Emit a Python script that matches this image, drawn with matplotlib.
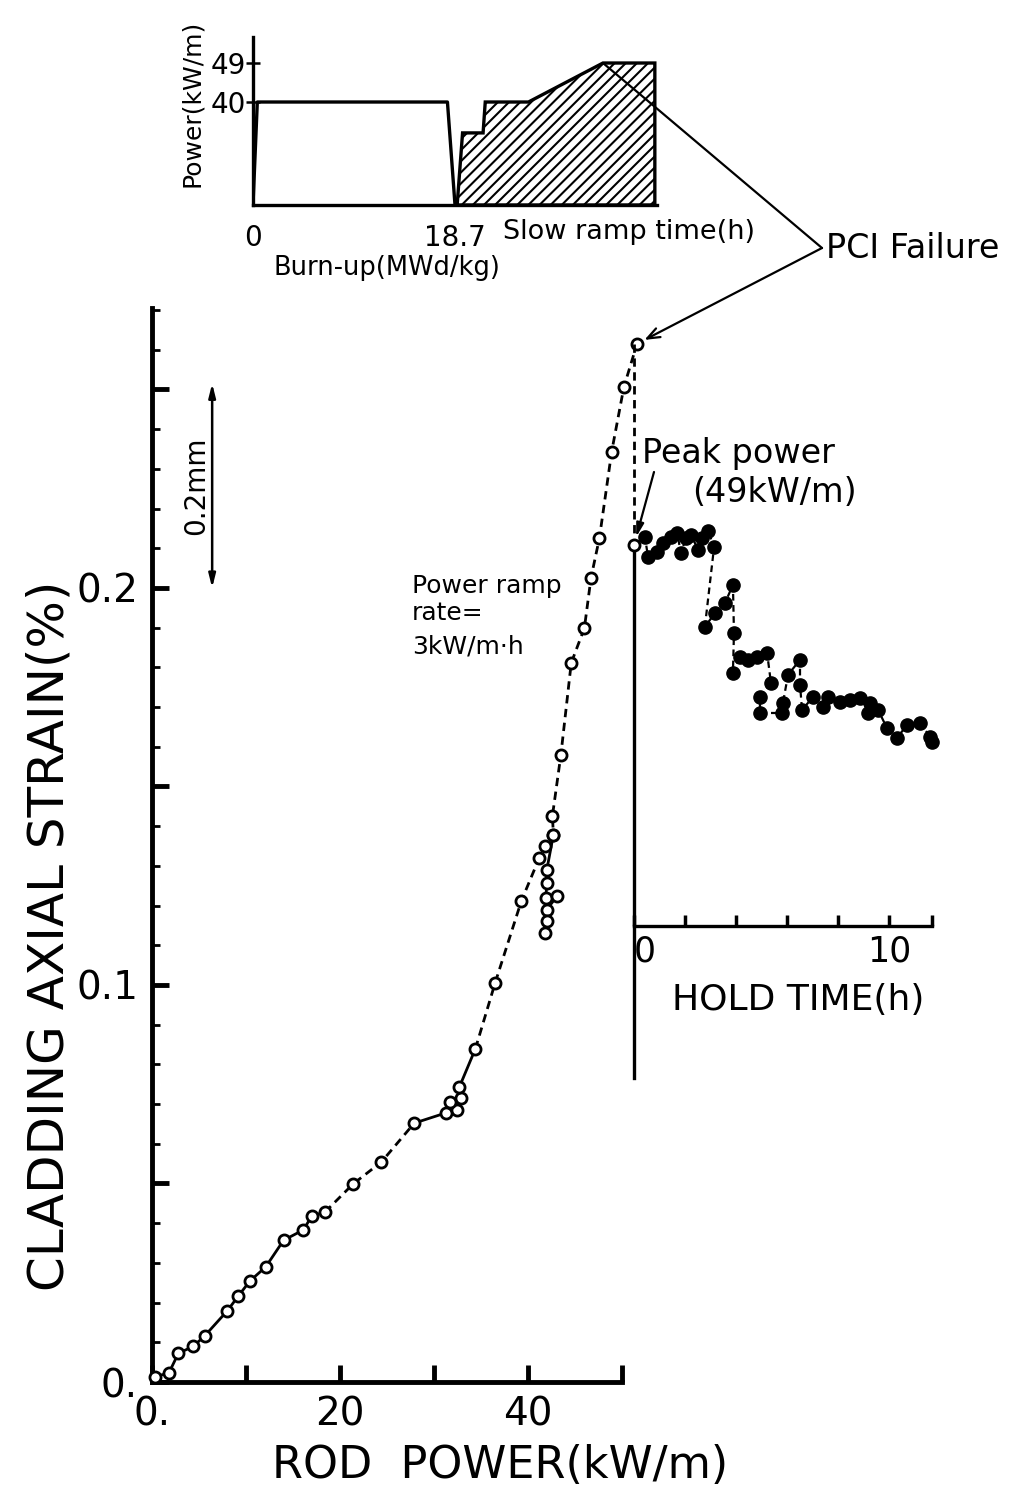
import numpy as np
import matplotlib
matplotlib.use("Agg")
import matplotlib.pyplot as plt
from matplotlib.ticker import FixedLocator, MultipleLocator

# ---------------- data ----------------
# power ramp: rod power (kW/m) vs cladding axial strain (%)
ramp_power = [0.3, 1.8, 2.8, 4.4, 5.6, 8.0, 9.2, 10.4, 12.1, 14.0, 16.1, 17.0, 18.4,
              21.4, 24.4, 27.9, 31.3, 32.4, 31.7, 32.9, 32.7, 34.4, 36.5, 39.3,
              41.2, 41.8, 42.7, 42.6, 43.5, 44.6, 46.0, 46.7, 47.6, 48.9, 50.2, 51.6]
ramp_strain = [0.0013, 0.0023, 0.0072, 0.0090, 0.0116, 0.0179, 0.0217, 0.0254, 0.0290,
               0.0357, 0.0383, 0.0418, 0.0428, 0.0499, 0.0554, 0.0652, 0.0678, 0.0685,
               0.0705, 0.0715, 0.0743, 0.0839, 0.1005, 0.1212, 0.1320, 0.1350, 0.1378,
               0.1426, 0.1580, 0.1811, 0.1899, 0.2025, 0.2126, 0.2343, 0.2506, 0.2615]
# relaxation points near 42 kW/m
relax_power = [42.7, 42.0, 42.0, 41.9, 43.1, 42.0, 42.0, 41.8]
relax_strain = [0.1378, 0.1290, 0.1257, 0.1220, 0.1224, 0.1190, 0.1160, 0.1130]

# hold at peak power: hold time (h) vs strain (%)
hold_start_strain = 0.2108
hold_time = [0.43, 0.55, 0.90, 1.14, 1.45, 1.69, 1.84, 2.04, 2.24, 2.51, 2.67, 2.90, 3.14,
             2.78, 3.18, 3.57, 3.88, 3.92, 3.88, 4.16, 4.47, 4.82, 5.22, 5.37, 4.94, 4.94,
             5.80, 5.84, 6.04, 6.51, 6.51, 6.59, 7.02, 7.41, 7.61, 8.08, 8.47, 8.86, 9.25,
             9.18, 9.57, 9.92, 10.31, 10.71, 11.22, 11.61, 11.69]
hold_strain = [0.2128, 0.2078, 0.2091, 0.2113, 0.2128, 0.2139, 0.2088, 0.2126, 0.2134,
               0.2096, 0.2126, 0.2144, 0.2103, 0.1902, 0.1937, 0.1962, 0.2008, 0.1887,
               0.1786, 0.1826, 0.1819, 0.1826, 0.1836, 0.1761, 0.1725, 0.1685, 0.1685,
               0.1710, 0.1781, 0.1819, 0.1756, 0.1693, 0.1725, 0.1700, 0.1725, 0.1713,
               0.1718, 0.1723, 0.1710, 0.1685, 0.1693, 0.1647, 0.1622, 0.1655, 0.1660,
               0.1625, 0.1612]

# inset: power history (schematic)
irr_x = [0.0, 0.4, 18.0, 18.7]
irr_power = [0, 40, 40, 0]
ramp_hist_x = [18.9, 19.4, 21.3, 21.5, 25.5, 32.4, 37.2, 37.2]
ramp_hist_power = [0, 28, 28, 40, 40, 49, 49, 0]
inset_peak = (32.4, 49)
inset_yticks = [40, 49]
inset_yticklabels = ['40', '49']
inset_xticks = [0, 18.7]
inset_xticklabels = ['0', '18.7']

main_xticks = [0, 10, 20, 30, 40, 50]
main_xticklabels = ['0.', '', '20', '', '40', '']
main_yticks = [0.0, 0.05, 0.10, 0.15, 0.20, 0.25]
main_yticklabels = ['0.', '', '0.1', '', '0.2', '']
hold_xticks = [0, 2, 4, 6, 8, 10, 11.7]
hold_xticklabels = ['0', '', '', '', '', '10', '']
hold_axis_strain = 0.1148

scalebar_x = 6.4
scalebar_strain = (0.200, 0.2515)

# ---------------- layout ----------------
W, H = 1015, 1490
plt.rcParams['font.family'] = ['DejaVu Sans']
plt.rcParams['hatch.linewidth'] = 1.5

def fx(px):
    return px / W

def fy(py):
    return 1 - py / H

fig = plt.figure(figsize=(W / 100, H / 100), dpi=100)

# main axes (pixel box)
MX0, MX1, MY0, MY1 = 152, 622, 1382, 308
YTOP = 0.2705
pix_per_strain = (MY0 - MY1) / YTOP
ax = fig.add_axes([fx(MX0), fy(MY0), (MX1 - MX0) / W, (MY0 - MY1) / H])
ax.set_xlim(0, 50)
ax.set_ylim(0, YTOP)
ax.patch.set_alpha(0)
for s in ['top', 'right']:
    ax.spines[s].set_visible(False)
for s in ['left', 'bottom']:
    ax.spines[s].set_linewidth(3.5)
ax.xaxis.set_major_locator(FixedLocator(main_xticks))
ax.set_xticklabels(main_xticklabels)
ax.yaxis.set_major_locator(FixedLocator(main_yticks))
ax.set_yticklabels(main_yticklabels)
ax.yaxis.set_minor_locator(MultipleLocator(0.01))
ax.tick_params(axis='both', which='major', direction='in', length=12, width=3.5,
               labelsize=28, pad=10)
ax.tick_params(axis='y', which='minor', direction='in', length=6, width=2)

ls_d = (0, (3, 2.0))
LW = 2.0
seg_solid1 = slice(0, 13)
seg_dash1 = slice(12, 16)
seg_solid2 = slice(15, 22)
seg_dash2 = slice(21, None)
ax.plot(ramp_power[seg_solid1], ramp_strain[seg_solid1], '-', color='k', lw=LW, clip_on=False)
ax.plot(ramp_power[seg_dash1], ramp_strain[seg_dash1], linestyle=ls_d, color='k', lw=LW, clip_on=False)
ax.plot(ramp_power[seg_solid2], ramp_strain[seg_solid2], '-', color='k', lw=LW, clip_on=False)
ax.plot(ramp_power[seg_dash2], ramp_strain[seg_dash2], linestyle=ls_d, color='k', lw=LW, clip_on=False)
ax.plot(relax_power, relax_strain, '-', color='k', lw=LW, clip_on=False)
MS_OPEN, MEW = 8, 2.0
ax.plot(ramp_power, ramp_strain, 'o', ms=MS_OPEN, mfc='white', mec='k', mew=MEW,
        linestyle='none', clip_on=False, zorder=5)
ax.plot(relax_power, relax_strain, 'o', ms=MS_OPEN, mfc='white', mec='k', mew=MEW,
        linestyle='none', clip_on=False, zorder=5)

# scale bar 0.2 mm
ax.annotate('', xy=(scalebar_x, scalebar_strain[1]), xytext=(scalebar_x, scalebar_strain[0]),
            arrowprops=dict(arrowstyle='<|-|>,head_length=0.8,head_width=0.2', lw=1.8,
                            color='k', shrinkA=0, shrinkB=0))
ax.text(scalebar_x - 0.25, sum(scalebar_strain) / 2, '0.2mm', rotation=90, ha='right',
        va='center', fontsize=20)

# hold-time axes
HX0 = 634
H_PER_HOUR = 25.5
HX1 = HX0 + hold_xticks[-1] * H_PER_HOUR
HY0 = 1078
hold_ybottom = (MY0 - HY0) / pix_per_strain
ax2 = fig.add_axes([fx(HX0), fy(HY0), (HX1 - HX0) / W, (HY0 - MY1) / H])
ax2.set_xlim(0, hold_xticks[-1])
ax2.set_ylim(hold_ybottom, YTOP)
ax2.patch.set_alpha(0)
for s in ['top', 'right']:
    ax2.spines[s].set_visible(False)
ax2.spines['left'].set_bounds(hold_ybottom, hold_start_strain)
ax2.spines['left'].set_linewidth(2.4)
ax2.spines['bottom'].set_position(('data', hold_axis_strain))
ax2.spines['bottom'].set_linewidth(2.4)
ax2.tick_params(left=False, labelleft=False)
ax2.xaxis.set_major_locator(FixedLocator(hold_xticks))
ax2.set_xticklabels(hold_xticklabels)
ax2.tick_params(axis='x', direction='in', length=8, width=2.5, labelsize=25, pad=6)
ax2.get_xticklabels()[0].set_horizontalalignment('left')

ax2.plot([0, 0], [ramp_strain[-1], hold_start_strain], linestyle=ls_d, color='k', lw=LW,
         clip_on=False)
ax2.plot([0] + hold_time, [hold_start_strain] + hold_strain, linestyle=(0, (3, 2)),
         color='k', lw=1.6, clip_on=False)
ax2.plot(hold_time, hold_strain, 'o', ms=9.5, mfc='k', mec='k', linestyle='none',
         clip_on=False, zorder=5)
ax2.plot([0], [hold_start_strain], 'o', ms=MS_OPEN, mfc='white', mec='k', mew=MEW,
         clip_on=False, zorder=6)

# inset: power history
ax_in = fig.add_axes([fx(253), fy(205), (657 - 253) / W, (205 - 37) / H])
in_vals = [0, 40, 49, 60]
in_pix = [0, 103, 142, 189.7]
ax_in.set_yscale('function', functions=(lambda v: np.interp(v, in_vals, in_pix),
                                         lambda p: np.interp(p, in_pix, in_vals)))
ax_in.set_ylim(0, 55)
ax_in.set_xlim(0, 37.4)
ax_in.patch.set_alpha(0)
for s in ['top', 'right']:
    ax_in.spines[s].set_visible(False)
for s in ['left', 'bottom']:
    ax_in.spines[s].set_linewidth(2.4)
ax_in.fill(ramp_hist_x, ramp_hist_power, facecolor='white', edgecolor='k', hatch='///', lw=2.4)
ax_in.plot(irr_x, irr_power, '-', color='k', lw=2.4)
ax_in.yaxis.set_major_locator(FixedLocator(inset_yticks))
ax_in.yaxis.set_minor_locator(FixedLocator([]))
ax_in.set_yticklabels(inset_yticklabels)
ax_in.xaxis.set_major_locator(FixedLocator(inset_xticks))
ax_in.set_xticklabels(inset_xticklabels)
ax_in.tick_params(axis='y', direction='inout', length=10, width=1.8, labelsize=20, pad=0)
ax_in.tick_params(axis='x', length=0, labelsize=20, pad=14)

fig.text(fx(192), fy(103), 'Power(kW/m)', rotation=90, ha='center', va='center', fontsize=18)
fig.text(fx(503), fy(232), 'Slow ramp time(h)', ha='left', va='center', fontsize=19.5)
fig.text(fx(387), fy(268), 'Burn-up(MWd/kg)', ha='center', va='center', fontsize=18.5)

# PCI failure annotation
pci_xy = (fx(822), fy(248))
fig.text(fx(826), fy(248), 'PCI Failure', ha='left', va='center', fontsize=24)
ax_in.annotate('', xy=inset_peak, xycoords='data', xytext=pci_xy, textcoords='figure fraction',
               arrowprops=dict(arrowstyle='-', lw=1.6, color='k', shrinkA=0, shrinkB=0),
               annotation_clip=False)
ax.annotate('', xy=(ramp_power[-1], ramp_strain[-1]), xycoords='data', xytext=pci_xy,
            textcoords='figure fraction',
            arrowprops=dict(arrowstyle='->,head_length=0.9,head_width=0.35', lw=1.6,
                            color='k', shrinkA=0, shrinkB=6),
            annotation_clip=False)

# peak power annotation
fig.text(fx(642), fy(453), 'Peak power', ha='left', va='center', fontsize=24)
fig.text(fx(692), fy(492), '(49kW/m)', ha='left', va='center', fontsize=24)
ax2.annotate('', xy=(0, hold_start_strain), xycoords='data', xytext=(fx(654), fy(472)),
             textcoords='figure fraction',
             arrowprops=dict(arrowstyle='-|>,head_length=0.8,head_width=0.22', lw=1.6,
                             color='k', shrinkA=0, shrinkB=6),
             annotation_clip=False)

# ramp rate text
fig.text(fx(412), fy(586), 'Power ramp', ha='left', va='center', fontsize=18)
fig.text(fx(412), fy(613), 'rate=', ha='left', va='center', fontsize=18)
fig.text(fx(412), fy(646), '3kW/m\u00b7h', ha='left', va='center', fontsize=18)

# axis titles
fig.text(fx(672), fy(1000), 'HOLD TIME(h)', ha='left', va='center', fontsize=26)
fig.text(fx(50), fy(936), 'CLADDING AXIAL STRAIN(%)', rotation=90, ha='center',
         va='center', fontsize=36)
fig.text(fx(500), fy(1465), 'ROD  POWER(kW/m)', ha='center', va='center', fontsize=32)

fig.savefig('out.png', dpi=100, facecolor='white')
